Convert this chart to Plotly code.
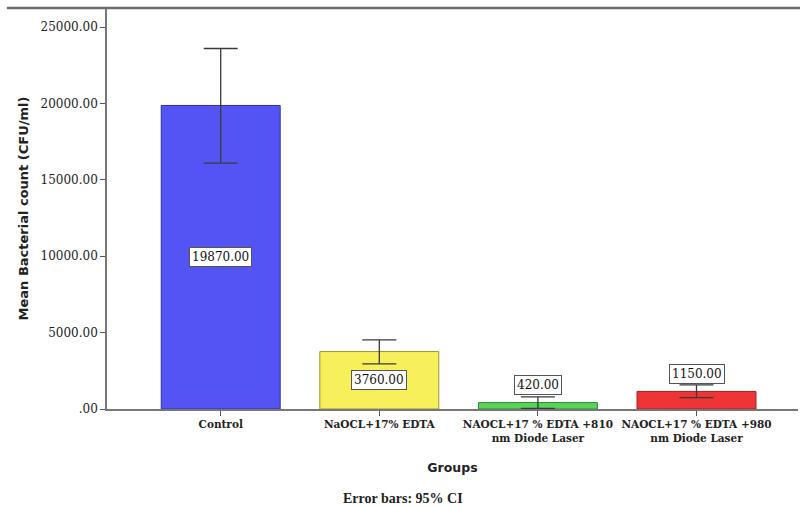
import plotly.graph_objects as go

categories = ["Control", "NaOCL+17% EDTA", "NAOCL+17 % EDTA +810<br>nm Diode Laser", "NAOCL+17 % EDTA +980<br>nm Diode Laser"]
means = [19870.0, 3760.0, 420.0, 1150.0]
ci_plus = [3730.0, 760.0, 380.0, 430.0]
ci_minus = [3770.0, 800.0, 380.0, 400.0]
bar_colors = ["#5454F5", "#F7F05A", "#58D458", "#EE3434"]
edge_colors = ["#3030A0", "#9A9430", "#2E8A2E", "#A02020"]
y_ticks = [0, 5000, 10000, 15000, 20000, 25000]
y_ticktext = [".00", "5000.00", "10000.00", "15000.00", "20000.00", "25000.00"]

xs = list(range(len(categories)))

fig = go.Figure()
fig.add_trace(go.Bar(
    x=xs, y=means, width=0.75,
    marker=dict(color=bar_colors, line=dict(color=edge_colors, width=1)),
    error_y=dict(type="data", symmetric=False, array=ci_plus, arrayminus=ci_minus,
                 color="#3a3a3a", thickness=1.3, width=17),
    showlegend=False, hoverinfo="skip",
))

serif = "Liberation Serif, Times New Roman, serif"
dserif = "DejaVu Serif, serif"
sans = "DejaVu Sans, Arial, sans-serif"

for i, v in enumerate(means):
    ly = v / 2 if v > 2000 else v + 1150
    fig.add_annotation(x=xs[i], y=ly, xref="x", yref="y",
                       text=f"{v:.2f}", showarrow=False,
                       font=dict(family=dserif, size=12, color="#111"),
                       bgcolor="white", bordercolor="#555", borderwidth=1, borderpad=2)

fig.add_annotation(x=0.428, y=-0.222, xref="paper", yref="paper", text="<b>Error bars: 95% CI</b>",
                   showarrow=False, font=dict(family=serif, size=14, color="#222"),
                   yanchor="middle")

fig.add_shape(type="line", xref="paper", yref="paper", x0=-0.145, x1=1.01, y0=1, y1=1,
              line=dict(color="#6e6e6e", width=2.5))

fig.update_layout(
    width=800, height=506,
    margin=dict(l=107, r=2, t=8, b=97),
    paper_bgcolor="white", plot_bgcolor="white",
    xaxis=dict(range=[-0.717, 3.64], tickvals=xs, ticktext=[f"<b>{c}</b>" for c in categories],
               tickfont=dict(family=dserif, size=10.5, color="#222"),
               ticks="outside", ticklen=5, tickcolor="#555",
               showline=True, linecolor="#777", linewidth=1.5,
               showgrid=False, zeroline=False,
               title=dict(text="<b>Groups</b>", font=dict(family=sans, size=12.5, color="#222"), standoff=20)),
    yaxis=dict(range=[0, 26250], tickvals=y_ticks, ticktext=y_ticktext,
               tickfont=dict(family=dserif, size=12, color="#222"),
               ticks="outside", ticklen=5, tickcolor="#555",
               showline=True, linecolor="#777", linewidth=1.5,
               showgrid=False, zeroline=False,
               title=dict(text="<b>Mean Bacterial count (CFU/ml)</b>", font=dict(family=sans, size=13, color="#222"), standoff=9)),
)

fig.write_html("out.html")
